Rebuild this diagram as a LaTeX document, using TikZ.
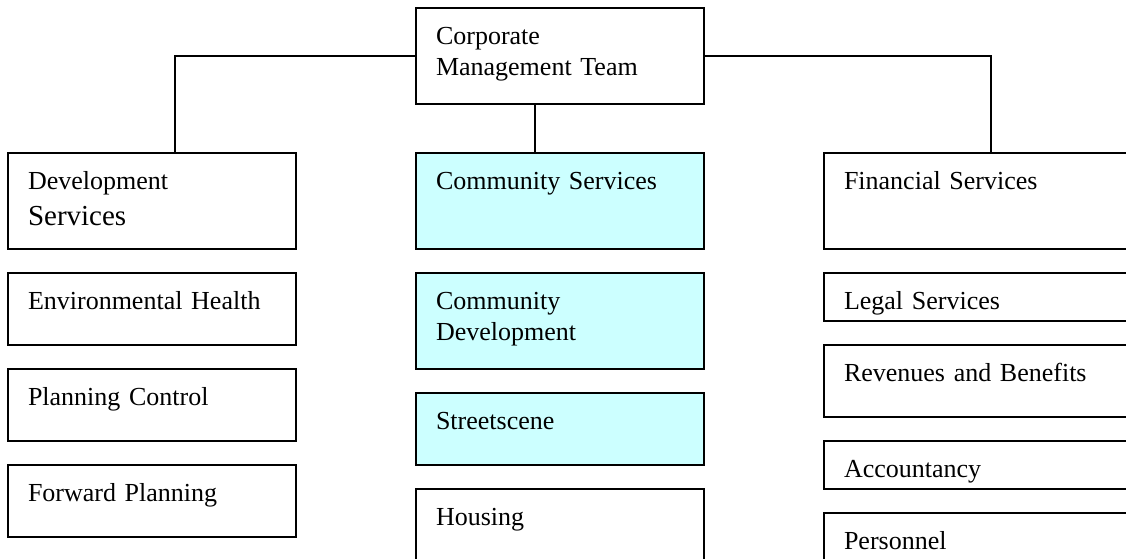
\documentclass[tikz,border=0pt]{standalone}
\usepackage{fontspec}
\setmainfont{Liberation Serif}
\usepackage{xcolor}
\definecolor{servicefill}{HTML}{CCFFFF}

\begin{document}
\begin{tikzpicture}[
    x=0.5pt, y=-0.5pt,
    unit/.style={
    draw=black,
    line width=1pt,
    anchor=north west,
    align=left,
    text width=124pt,
    inner xsep=10pt,
    inner ysep=0pt,
    text height=18pt,
    font=\fontsize{13}{15.5}\selectfont},
    tall/.style={unit, text depth=30pt},
    mid/.style={unit, text depth=18pt},
    short/.style={unit, text depth=6pt},
    wide/.style={text width=150pt},
    shaded/.style={fill=servicefill},
    link/.style={line width=1pt}
    ]
    \clip (0,0) rectangle (1126,558);

    \node[tall] (cmt) at (415,7) {Corporate\\Management Team};

    % left column
    \node[tall] (dev) at (7,152) {Development\\[2.5pt]{\fontsize{14.5}{17}\selectfont Services}};
    \node[mid] (env) at (7,272) {Environmental Health};
    \node[mid] (plan) at (7,368) {Planning Control};
    \node[mid] (fwd) at (7,464) {Forward Planning};

    % middle column
    \node[tall, shaded] (comm) at (415,152) {Community Services};
    \node[tall, shaded] (cdev) at (415,272) {Community\\Development};
    \node[mid, shaded] (street) at (415,392) {Streetscene};
    \node[tall] (housing) at (415,488) {Housing};

    % right column
    \node[tall, wide] (fin) at (823,152) {Financial Services};
    \node[short, wide] (legal) at (823,272) {Legal Services};
    \node[mid, wide] (rev) at (823,344) {Revenues and Benefits};
    \node[short, wide] (acct) at (823,440) {Accountancy};
    \node[mid, wide] (pers) at (823,512) {Personnel};

    \draw[link] (cmt.west) -| ([xshift=84pt]dev.north west);
    \draw[link] (cmt.east) -| ([xshift=84pt]fin.north west);
    \draw[link] ([xshift=60pt]cmt.south west) -- ([xshift=60pt]comm.north west);
\end{tikzpicture}
\end{document}
